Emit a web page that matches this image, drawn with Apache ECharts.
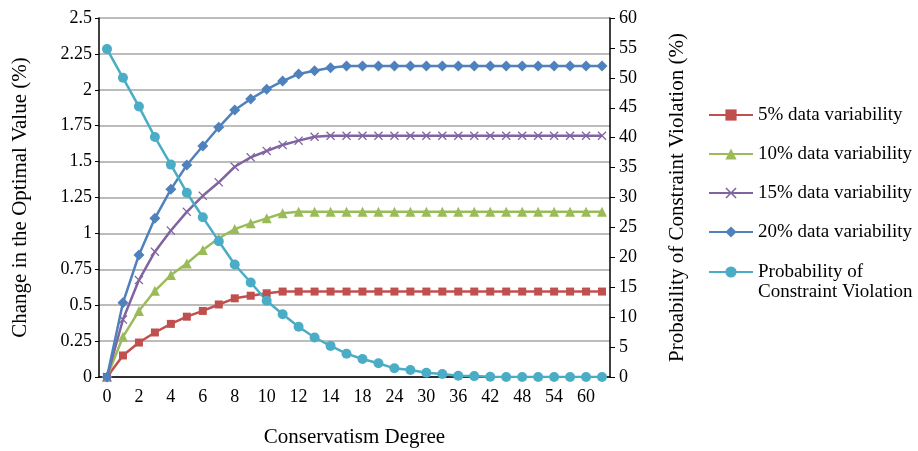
<!DOCTYPE html>
<html>
<head>
<meta charset="utf-8">
<script src="https://cdn.jsdelivr.net/npm/echarts@6/dist/echarts.min.js"></script>
<style>html,body{margin:0;padding:0;background:#fff;}#c{width:918px;height:451px;}</style>
</head>
<body>
<div id="c"></div>
<script>
// Conservatism degree categories (only even positions are labelled)
const categories = ['0','1','2','3','4','5','6','7','8','9','10','11','12','13','14','16','18','21','24','27','30','33','36','39','42','45','48','51','54','57','60','63'];

const var5 = [0,0.15,0.24,0.31,0.37,0.42,0.46,0.505,0.548,0.566,0.583,0.595,0.595,0.595,0.595,0.595,0.595,0.595,0.595,0.595,0.595,0.595,0.595,0.595,0.595,0.595,0.595,0.595,0.595,0.595,0.595,0.595];
const var10 = [0,0.28,0.46,0.6,0.71,0.79,0.885,0.966,1.03,1.07,1.105,1.14,1.15,1.15,1.15,1.15,1.15,1.15,1.15,1.15,1.15,1.15,1.15,1.15,1.15,1.15,1.15,1.15,1.15,1.15,1.15,1.15];
const var15 = [0,0.40,0.675,0.873,1.02,1.15,1.262,1.356,1.464,1.53,1.574,1.616,1.646,1.673,1.68,1.68,1.68,1.68,1.68,1.68,1.68,1.68,1.68,1.68,1.68,1.68,1.68,1.68,1.68,1.68,1.68,1.68];
const var20 = [0,0.517,0.85,1.105,1.307,1.476,1.609,1.739,1.859,1.936,2.003,2.061,2.11,2.133,2.154,2.165,2.165,2.165,2.165,2.165,2.165,2.165,2.165,2.165,2.165,2.165,2.165,2.165,2.165,2.165,2.165,2.165];
const probViolation = [54.8,50.0,45.2,40.1,35.5,30.8,26.7,22.7,18.8,15.8,12.75,10.5,8.4,6.6,5.2,3.9,3.0,2.3,1.45,1.17,0.72,0.5,0.22,0.15,0.05,0,0,0,0,0,0,0];

const seriesNames = ['5% data variability','10% data variability','15% data variability','20% data variability','Probability of\nConstraint Violation'];

const FONT = '"Liberation Serif","DejaVu Serif",serif';
const crossPath = 'path://M0,1 L1,0 L5,4 L9,0 L10,1 L6,5 L10,9 L9,10 L5,6 L1,10 L0,9 L4,5 Z';

function mk(name, data, color, symbol, size, axis) {
  return {
    name: name, type: 'line', data: data, yAxisIndex: axis,
    symbol: symbol, symbolSize: size, showAllSymbol: true,
    lineStyle: { color: color, width: 2.5 },
    itemStyle: { color: color },
    emphasis: { disabled: true },
    animation: false
  };
}

const legendText = { fontFamily: FONT, fontSize: 19, color: '#000', lineHeight: 20 };

const chart = echarts.init(document.getElementById('c'));
chart.setOption({
  backgroundColor: '#fff',
  animation: false,
  grid: { left: 99, right: 308, top: 18, bottom: 74, containLabel: false, outerBoundsMode: 'none' },
  legend: [
    {
      orient: 'vertical', left: 708, top: 105, padding: 0,
      itemWidth: 44, itemHeight: 14, itemGap: 19,
      textStyle: legendText,
      data: seriesNames.slice(0, 4)
    },
    {
      orient: 'vertical', left: 708, top: 242, padding: 0,
      itemWidth: 44, itemHeight: 14,
      textStyle: legendText,
      formatter: function (n) { return '\n' + n; },
      data: [seriesNames[4]]
    }
  ],
  xAxis: {
    type: 'category', data: categories, boundaryGap: true,
    name: 'Conservatism Degree', nameLocation: 'middle', nameGap: 50,
    nameTextStyle: { fontFamily: FONT, fontSize: 21, color: '#000' },
    axisLine: { lineStyle: { color: '#000', width: 1.5 } },
    axisTick: { show: false },
    axisLabel: { interval: 1, fontFamily: FONT, fontSize: 18, color: '#000', margin: 11 },
    splitLine: { show: false }
  },
  yAxis: [
    {
      type: 'value', min: 0, max: 2.5, interval: 0.25, position: 'left',
      name: 'Change in the Optimal Value (%)', nameLocation: 'middle', nameGap: 68, nameRotate: 90,
      nameTextStyle: { fontFamily: FONT, fontSize: 21, color: '#000' },
      axisLine: { show: true, lineStyle: { color: '#000', width: 1.5 } },
      axisTick: { show: true, inside: false, length: 4, lineStyle: { color: '#000' } },
      axisLabel: { fontFamily: FONT, fontSize: 18, color: '#000', margin: 7 },
      splitLine: { show: true, lineStyle: { color: '#a6a6a6', width: 1.5 } }
    },
    {
      type: 'value', min: 0, max: 60, interval: 5, position: 'right',
      name: 'Probability of Constraint Violation (%)', nameLocation: 'middle', nameGap: 57, nameRotate: 90,
      nameTextStyle: { fontFamily: FONT, fontSize: 21, color: '#000' },
      axisLine: { show: true, lineStyle: { color: '#000', width: 1.5 } },
      axisTick: { show: true, inside: false, length: 5, lineStyle: { color: '#000' } },
      axisLabel: { fontFamily: FONT, fontSize: 18, color: '#000', margin: 9 },
      splitLine: { show: false }
    }
  ],
  series: [
    mk(seriesNames[0], var5, '#C0504D', 'rect', 8, 0),
    mk(seriesNames[1], var10, '#9BBB59', 'triangle', 10, 0),
    mk(seriesNames[2], var15, '#8064A2', crossPath, 9, 0),
    mk(seriesNames[3], var20, '#4F81BD', 'diamond', 11, 0),
    mk(seriesNames[4], probViolation, '#4BACC6', 'circle', 10, 1)
  ]
});
</script>
</body>
</html>
